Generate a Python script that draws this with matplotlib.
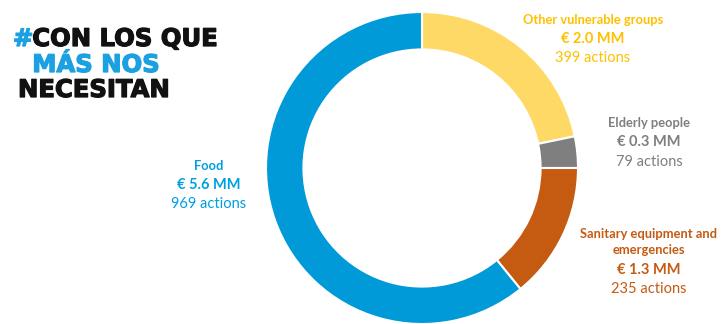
import matplotlib
matplotlib.use("Agg")
import matplotlib.pyplot as plt
import matplotlib.patheffects as pe

# data
categories = [["Other vulnerable groups"], ["Elderly people"],
              ["Sanitary equipment and", "emergencies"], ["Food"]]
amounts = [2.0, 0.3, 1.3, 5.6]      # millions of euros
actions = [399, 79, 235, 969]
colors = ["#FFD966", "#7F7F7F", "#C55A11", "#009AD8"]
text_colors = ["#FFC000", "#7F7F7F", "#C55A11", "#00A0E0"]

W, H = 725, 324
fig = plt.figure(figsize=(W / 100, H / 100), dpi=100)

# donut: centre (422,168) px, radius 156 px
cx, cy, r = 422, 168, 156
ax = fig.add_axes([(cx - r) / W, (H - cy - r) / H, 2 * r / W, 2 * r / H])
ax.pie(amounts, colors=colors, startangle=90, counterclock=False,
       radius=1, wedgeprops=dict(width=0.24, edgecolor="white", linewidth=1.5))
ax.set_xlim(-1, 1)
ax.set_ylim(-1, 1)
ax.set_aspect("equal")
ax.axis("off")

font = "Lato"

# label positions in pixels (centre x, y of first line)
label_pos = [(593, 20), (649, 123), (649, 234), (209, 166)]
for cat, amt, act, col, (x, y) in zip(categories, amounts, actions, text_colors, label_pos):
    fx = x / W
    for i, line in enumerate(cat):
        fig.text(fx, 1 - (y + 16.5 * i) / H, line, color=col, fontsize=9.3,
                 fontweight="bold", family=font, ha="center", va="center")
    y2 = y + 16.5 * (len(cat) - 1) + 19
    fig.text(fx, 1 - y2 / H, "€ %.1f MM" % amt, color=col, fontsize=10.5,
             fontweight="bold", family=font, ha="center", va="center")
    fig.text(fx, 1 - (y2 + 19.5) / H, "%d actions" % act, color=col, fontsize=10.5,
             family=font, ha="center", va="center")

# title block
def heavy(c):
    return [pe.withStroke(linewidth=0.9, foreground=c)]

tfont = dict(family="DejaVu Sans", fontweight="bold", fontsize=17.5)
t = fig.text(13 / W, 1 - 46 / H, "#", color="#1BA1E2", va="baseline", ha="left",
             path_effects=heavy("#1BA1E2"), **tfont)
fig.canvas.draw()
bb = t.get_window_extent()
x0 = (bb.x1 - 1) / W
fig.text(x0, 1 - 46 / H, "CON LOS QUE", color="#111111", va="baseline", ha="left",
         path_effects=heavy("#111111"), **tfont)
fig.text(x0, 1 - 72 / H, "MÁS NOS", color="#1BA1E2", va="baseline", ha="left",
         path_effects=heavy("#1BA1E2"), **tfont)
fig.text(18 / W, 1 - 97 / H, "NECESITAN", color="#111111", va="baseline", ha="left",
         path_effects=heavy("#111111"), **tfont)

fig.savefig("out.png", dpi=100, facecolor="white")
